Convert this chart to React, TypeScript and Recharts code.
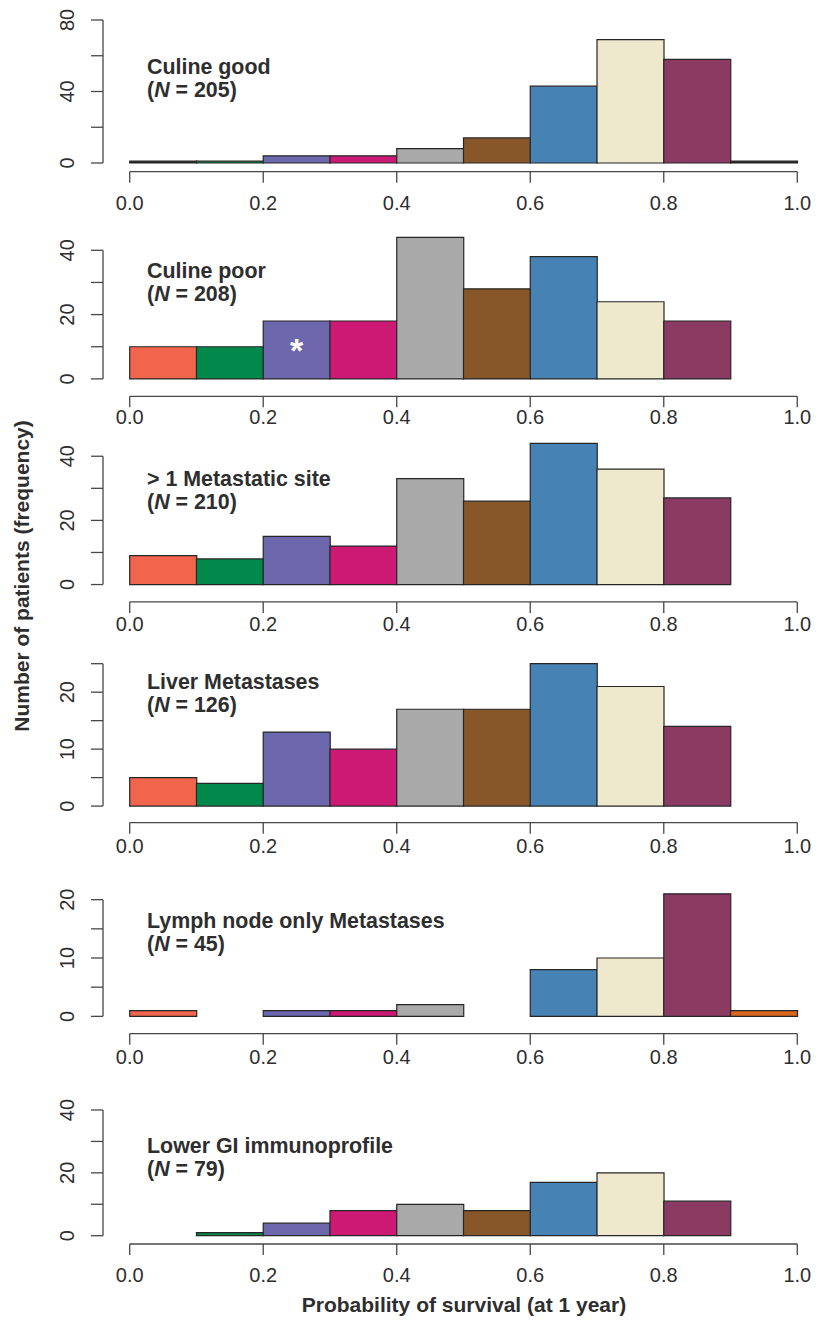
import React from 'react';
import { BarChart, Bar, XAxis, YAxis, Cell, ReferenceLine, LabelList } from 'recharts';

// histogram bins (probability of survival at 1 year), left edges
const binStarts = [0.0, 0.1, 0.2, 0.3, 0.4, 0.5, 0.6, 0.7, 0.8, 0.9];
const binWidth = 0.1;
const xTicks = [0, 0.2, 0.4, 0.6, 0.8, 1.0];

// counts per bin
const culineGood = [1, 1, 4, 4, 8, 14, 43, 69, 58, 1];
const culinePoor = [10, 10, 18, 18, 44, 28, 38, 24, 18, 0];
const multiSite = [9, 8, 15, 12, 33, 26, 44, 36, 27, 0];
const liverMets = [5, 4, 13, 10, 17, 17, 25, 21, 14, 0];
const lymphOnly = [1, 0, 1, 1, 2, 0, 8, 10, 21, 1];
const lowerGI = [0, 1, 4, 8, 10, 8, 17, 20, 11, 0];

const culinePoorMarks = ['', '', '*', '', '', '', '', '', '', ''];

const palette = ['#f0654b', '#00894a', '#6d67ae', '#cc1a74', '#a9a9a9', '#87572a', '#4682b4', '#eee8cd', '#8b3a62', '#d9661f'];
const culineGoodColors = ['#1c1c1c', ...palette.slice(1, 9), '#1c1c1c'];

const SANS = '"Liberation Sans", Arial, Helvetica, sans-serif';
const TEXT = '#2e2e2e';
const AXIS = '#474747';

interface Panel {
  title: string;
  n: number;
  counts: number[];
  colors: string[];
  marks?: string[];
  yTicks: number[];
  yLabels: number[];
  // layout, page pixels
  zeroY: number;
  topTickY: number;
  axisY: number;
  yTop: number;
  tickGap: number;
  titleY: number;
}

const panels: Panel[] = [
  { title: 'Culine good', n: 205, counts: culineGood, colors: culineGoodColors, yTicks: [0, 20, 40, 60, 80], yLabels: [0, 40, 80], zeroY: 163, topTickY: 20, axisY: 171.7, yTop: 80, tickGap: 13, titleY: 56 },
  { title: 'Culine poor', n: 208, counts: culinePoor, colors: palette, marks: culinePoorMarks, yTicks: [0, 10, 20, 30, 40], yLabels: [0, 20, 40], zeroY: 379.3, topTickY: 250.7, axisY: 396.7, yTop: 46, tickGap: 3, titleY: 260 },
  { title: '> 1 Metastatic site', n: 210, counts: multiSite, colors: palette, yTicks: [0, 10, 20, 30, 40], yLabels: [0, 20, 40], zeroY: 584.3, topTickY: 456, axisY: 601.7, yTop: 46, tickGap: 4, titleY: 468 },
  { title: 'Liver Metastases', n: 126, counts: liverMets, colors: palette, yTicks: [0, 5, 10, 15, 20, 25], yLabels: [0, 10, 20], zeroY: 805.7, topTickY: 663.3, axisY: 822.3, yTop: 26, tickGap: 5, titleY: 671 },
  { title: 'Lymph node only Metastases', n: 45, counts: lymphOnly, colors: palette, yTicks: [0, 5, 10, 15, 20], yLabels: [0, 10, 20], zeroY: 1016.7, topTickY: 900, axisY: 1034, yTop: 22, tickGap: 5, titleY: 910 },
  { title: 'Lower GI immunoprofile', n: 79, counts: lowerGI, colors: palette, yTicks: [0, 10, 20, 30, 40], yLabels: [0, 20, 40], zeroY: 1235.7, topTickY: 1110, axisY: 1244, yTop: 40, tickGap: 13, titleY: 1135 },
];

const WIDTH = 824;
const Y_AXIS_W = 103;
const X_AXIS_H = 52;
const TOP_PAD = 24;

function RotatedTick(props: any) {
  const { x, y, payload, labels } = props;
  if (!labels.includes(payload.value)) return <g />;
  return (
    <text x={x} y={y} transform={`rotate(-90 ${x} ${y})`} textAnchor="middle" fontSize={20} fill={TEXT} fontFamily={SANS}>
      {payload.value}
    </text>
  );
}

function HistPanel({ p }: { p: Panel }) {
  const topTick = p.yTicks[p.yTicks.length - 1];
  const ppu = (p.zeroY - p.topTickY) / topTick;
  const chartTop = p.zeroY - p.yTop * ppu;
  const plotH = p.axisY - chartTop;
  const lo = -(p.axisY - p.zeroY) / ppu;
  const data = binStarts.map((s, i) => ({ mid: s + binWidth / 2, count: p.counts[i], mark: p.marks ? p.marks[i] : '' }));

  return (
    <div style={{ position: 'absolute', left: 0, top: chartTop - TOP_PAD }}>
      <BarChart width={WIDTH} height={TOP_PAD + plotH + X_AXIS_H} data={data} margin={{ top: TOP_PAD, right: 0, bottom: 0, left: 0 }} barCategoryGap={0} barGap={0}>
        <XAxis
          dataKey="mid"
          type="number"
          domain={[-0.04, 1.04]}
          allowDataOverflow
          ticks={xTicks}
          interval={0}
          height={X_AXIS_H}
          axisLine={false}
          tickLine={{ stroke: AXIS, strokeWidth: 1.3 }}
          tickSize={11}
          tickMargin={p.tickGap}
          tickFormatter={(v: number) => v.toFixed(1)}
          tick={{ fontSize: 20, fill: TEXT, fontFamily: SANS }}
        />
        <YAxis
          type="number"
          domain={[lo, p.yTop]}
          allowDataOverflow
          ticks={p.yTicks}
          interval={0}
          width={Y_AXIS_W}
          axisLine={false}
          tickLine={{ stroke: AXIS, strokeWidth: 1.3 }}
          tickSize={12}
          tickMargin={17}
          tick={<RotatedTick labels={p.yLabels} />}
        />
        <ReferenceLine ifOverflow="visible" stroke={AXIS} strokeWidth={1.3} segment={[{ x: 0, y: lo }, { x: 1, y: lo }]} />
        <ReferenceLine ifOverflow="visible" stroke={AXIS} strokeWidth={1.3} segment={[{ x: -0.04, y: 0 }, { x: -0.04, y: topTick }]} />
        <Bar dataKey="count" stroke="#262626" strokeWidth={1.2} isAnimationActive={false}>
          {data.map((d, i) => (
            <Cell key={i} fill={p.colors[i]} />
          ))}
          {p.marks && <LabelList dataKey="mark" position="center" fill="#ffffff" fontSize={34} fontWeight="bold" fontFamily={SANS} />}
        </Bar>
      </BarChart>
    </div>
  );
}

export default function App() {
  return (
    <div style={{ position: 'absolute', left: 0, top: 0, width: WIDTH, height: 1332, background: '#fff', fontFamily: SANS, color: TEXT }}>
      {panels.map((p) => (
        <HistPanel key={p.title} p={p} />
      ))}
      {panels.map((p) => (
        <div key={p.title + '-t'} style={{ position: 'absolute', left: 147, top: p.titleY, fontSize: 21.4, lineHeight: '23px', fontWeight: 'bold', whiteSpace: 'nowrap' }}>
          <div>{p.title}</div>
          <div>
            (<i>N</i> = {p.n})
          </div>
        </div>
      ))}
      <div style={{ position: 'absolute', left: 22, top: 576, transform: 'translate(-50%, -50%) rotate(-90deg)', fontSize: 21, fontWeight: 'bold', whiteSpace: 'nowrap' }}>
        Number of patients (frequency)
      </div>
      <div style={{ position: 'absolute', left: 464, top: 1305, transform: 'translate(-50%, -50%)', fontSize: 21, fontWeight: 'bold', whiteSpace: 'nowrap' }}>
        Probability of survival (at 1 year)
      </div>
    </div>
  );
}
